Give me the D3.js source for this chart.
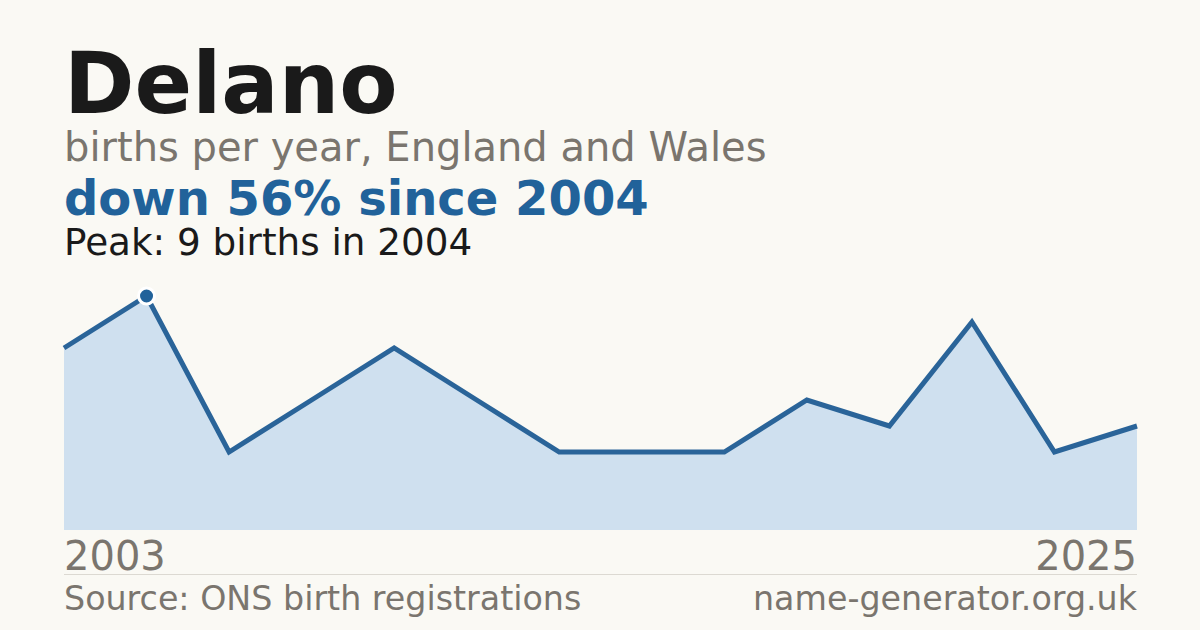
<!DOCTYPE html>
<html>
<head>
<meta charset="utf-8">
<script src="https://cdn.jsdelivr.net/npm/d3@7"></script>
<style>
  html, body { margin: 0; padding: 0; background: #faf9f4; }
  svg { display: block; font-family: "DejaVu Sans", sans-serif; }
</style>
</head>
<body>
<script>
// data: births per year (suppressed years left out)
var years  = [2003, 2004, 2006, 2008, 2010, 2011, 2013, 2015, 2016, 2018, 2020, 2022, 2024, 2025]
var births = [7, 9, 3, 5, 7, 5, 3, 3, 3, 5, 4, 8, 3, 4]
var axisLabels = ["2003", "2025"]

var W = 1200, H = 630
var mLeft = 64, mRight = 1137, mTop = 296, mBottom = 530

var data = years.map((y, i) => ({year: y, value: births[i]}))

var svg = d3.select("body").append("svg")
    .attr("width", W)
    .attr("height", H)

svg.append("rect").attr("width", W).attr("height", H).attr("fill", "#faf9f4")

// scales - points evenly spaced by index
var x = d3.scalePoint()
    .domain(years)
    .range([mLeft, mRight])

var y = d3.scaleLinear()
    .domain([0, d3.max(births)])
    .range([mBottom, mTop])

// titles
svg.append("text").attr("x", 64).attr("y", 113)
    .attr("font-size", 85).attr("font-weight", "bold").attr("fill", "#1a1a1a")
    .text("Delano")
svg.append("text").attr("x", 64).attr("y", 161)
    .attr("font-size", 40).attr("fill", "#7a756e")
    .text("births per year, England and Wales")
svg.append("text").attr("x", 64).attr("y", 215)
    .attr("font-size", 48).attr("font-weight", "bold").attr("fill", "#21629a")
    .text("down 56% since 2004")
svg.append("text").attr("x", 64).attr("y", 255)
    .attr("font-size", 37.3).attr("fill", "#1a1a1a")
    .text("Peak: 9 births in 2004")

// area + line
var area = d3.area()
    .x(d => x(d.year))
    .y0(mBottom)
    .y1(d => y(d.value))

var line = d3.line()
    .x(d => x(d.year))
    .y(d => y(d.value))

svg.append("path").datum(data)
    .attr("d", area)
    .attr("fill", "#cfe0ef")

svg.append("path").datum(data)
    .attr("d", line)
    .attr("fill", "none")
    .attr("stroke", "#2a6499")
    .attr("stroke-width", 5)
    .attr("stroke-linejoin", "miter")

// peak marker
var peak = data.reduce((a, b) => b.value > a.value ? b : a)
svg.append("circle")
    .attr("cx", x(peak.year)).attr("cy", y(peak.value))
    .attr("r", 8)
    .attr("fill", "#21629a")
    .attr("stroke", "#fff")
    .attr("stroke-width", 3)

// year labels
svg.append("text").attr("x", mLeft).attr("y", 570)
    .attr("font-size", 40).attr("fill", "#7a756e")
    .text(axisLabels[0])
svg.append("text").attr("x", mRight).attr("y", 570)
    .attr("font-size", 40).attr("fill", "#7a756e").attr("text-anchor", "end")
    .text(axisLabels[1])

// divider
svg.append("line")
    .attr("x1", mLeft).attr("x2", mRight)
    .attr("y1", 574.5).attr("y2", 574.5)
    .attr("stroke", "#dcd9d2").attr("stroke-width", 1)

// footer
svg.append("text").attr("x", mLeft).attr("y", 610)
    .attr("font-size", 33.3).attr("fill", "#7a756e")
    .text("Source: ONS birth registrations")
svg.append("text").attr("x", mRight).attr("y", 610)
    .attr("font-size", 33.3).attr("fill", "#7a756e").attr("text-anchor", "end")
    .text("name-generator.org.uk")
</script>
</body>
</html>
